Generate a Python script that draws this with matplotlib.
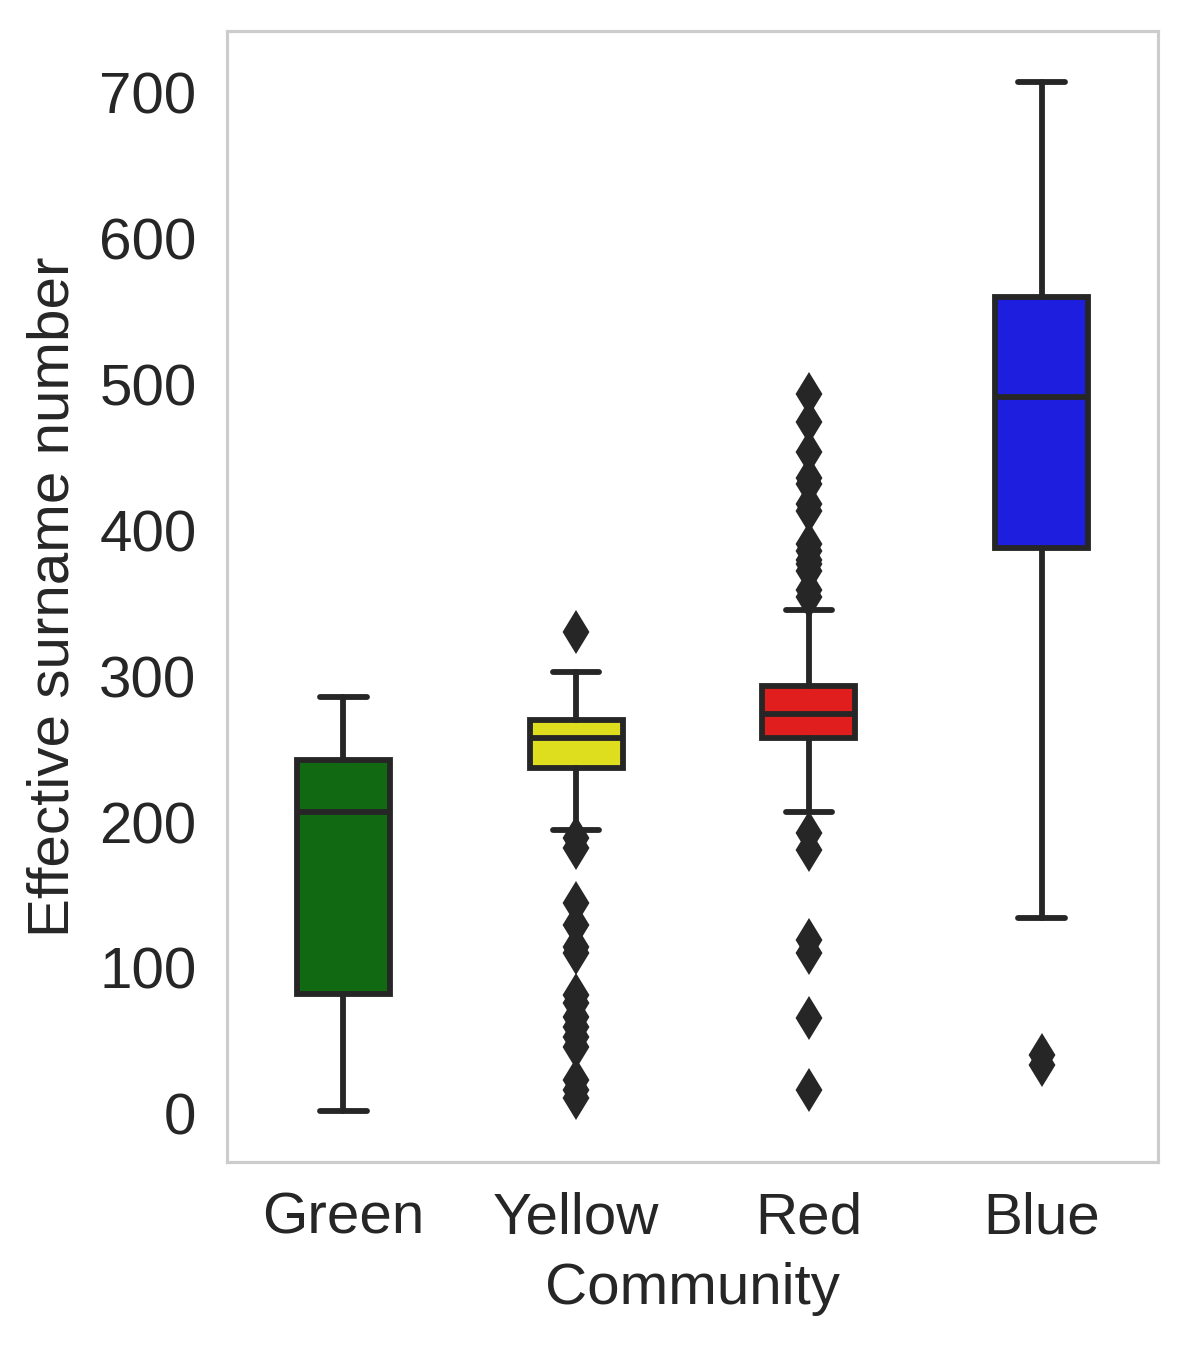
import matplotlib
matplotlib.use("Agg")
import matplotlib.pyplot as plt

# Summary values
communities = ["Green", "Yellow", "Red", "Blue"]
colors = ["#116a11", "#dede1e", "#e01e1e", "#1e1ede"]

q1 = [82.1, 236.8, 257.4, 387.6]
medians = [206.7, 257.6, 273.8, 491.4]
q3 = [242.3, 269.7, 292.9, 559.9]
whisker_low = [2.3, 194.4, 206.9, 134.4]
whisker_high = [285.4, 302.7, 345.0, 707.3]

fliers_green = []
fliers_yellow = [330.0, 188.9, 182.0, 144.4, 129.4, 114.3, 110.2, 81.4, 76.0,
                 66.4, 59.5, 52.7, 45.9, 23.3, 16.4, 11.0]
fliers_red = [493.3, 473.9, 453.3, 436.0, 431.9, 418.2, 413.4, 390.8, 386.0,
              379.2, 377.1, 372.3, 358.7, 353.9, 192.3, 180.6, 119.1, 110.2,
              65.7, 16.4]
fliers_blue = [40.4, 33.5]
fliers = [fliers_green, fliers_yellow, fliers_red, fliers_blue]

plt.rcParams['font.family'] = ['Liberation Sans', 'DejaVu Sans']
text_color = "#262626"
line_color = "#262626"

fig = plt.figure(figsize=(1187 / 300, 1347 / 300), dpi=300)
ax = fig.add_axes([0.1912, 0.1373, 0.7844, 0.8397])

stats = []
for i, name in enumerate(communities):
    stats.append({
        "label": name,
        "q1": q1[i],
        "med": medians[i],
        "q3": q3[i],
        "whislo": whisker_low[i],
        "whishi": whisker_high[i],
        "fliers": fliers[i],
    })

lw = 1.4
parts = ax.bxp(
    stats,
    positions=range(len(communities)),
    widths=0.4,
    patch_artist=True,
    boxprops=dict(edgecolor=line_color, linewidth=lw),
    medianprops=dict(color=line_color, linewidth=lw),
    whiskerprops=dict(color=line_color, linewidth=lw, solid_capstyle="round"),
    capprops=dict(color=line_color, linewidth=lw, solid_capstyle="round"),
    flierprops=dict(marker="d", markersize=6.0, markerfacecolor=line_color,
                    markeredgecolor=line_color, linestyle="none"),
)
for box, c in zip(parts["boxes"], colors):
    box.set_facecolor(c)

ax.set_xlim(-0.5, 3.5)
ax.set_ylim(-33, 742)
ax.set_yticks(range(0, 701, 100))
ax.set_xticks(range(len(communities)))
ax.set_xticklabels(communities)

for s in ax.spines.values():
    s.set_color("#cccccc")
    s.set_linewidth(0.75)

ax.tick_params(axis="both", length=0, labelsize=14, colors=text_color)
ax.tick_params(axis="y", pad=7.3)
ax.tick_params(axis="x", pad=7.0)
ax.set_xlabel("Community", fontsize=14, color=text_color, labelpad=4)
ax.set_ylabel("Effective surname number", fontsize=14, color=text_color, labelpad=4.5)

fig.savefig("out.png", dpi=300)
